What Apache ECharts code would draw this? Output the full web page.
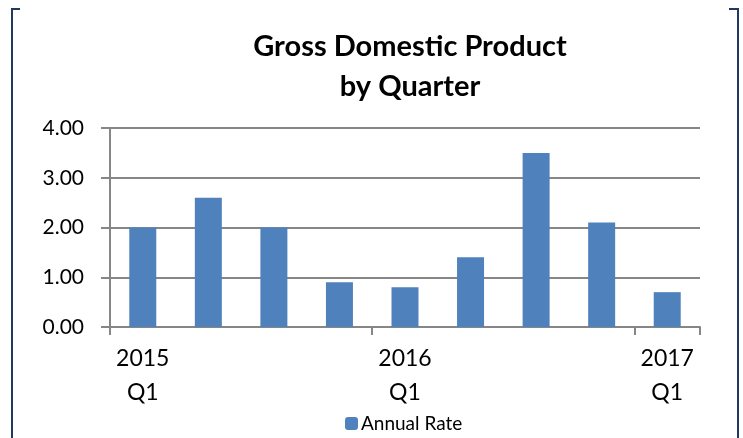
<!DOCTYPE html>
<html>
<head>
<meta charset="utf-8">
<script src="https://cdn.jsdelivr.net/npm/echarts@6/dist/echarts.min.js"></script>
<style>
  html, body { margin: 0; padding: 0; background: #fff; }
  #chart { width: 743px; height: 438px; }
</style>
</head>
<body>
<div id="chart"></div>
<script>
// quarters from 2015 Q1 to 2017 Q1
const quarters = ['2015 Q1', '2015 Q2', '2015 Q3', '2015 Q4', '2016 Q1', '2016 Q2', '2016 Q3', '2016 Q4', '2017 Q1'];
const annualRate = [2.0, 2.6, 2.0, 0.9, 0.8, 1.4, 3.5, 2.1, 0.7];
const yTicks = [0, 1, 2, 3, 4];

const font = 'Lato, "Open Sans", sans-serif';
const chart = echarts.init(document.getElementById('chart'));

chart.setOption({
  backgroundColor: '#ffffff',
  animation: false,
  title: {
    text: 'Gross Domestic Product\nby Quarter',
    left: 405,
    top: 22,
    textAlign: 'center',
    textStyle: { fontFamily: font, fontSize: 29, fontWeight: 'bold', color: '#000', lineHeight: 40 }
  },
  legend: {
    bottom: 0,
    left: 340,
    itemWidth: 13,
    itemHeight: 13,
    itemGap: 4,
    textStyle: { fontFamily: font, fontSize: 19, color: '#000', padding: [0, 0, 0, -2] },
    data: ['Annual Rate']
  },
  grid: { left: 110, right: 43, top: 128, bottom: 111 },
  xAxis: {
    type: 'category',
    data: quarters,
    axisLine: { lineStyle: { color: '#868686', width: 2 } },
    axisTick: { show: true, length: 8, lineStyle: { color: '#868686', width: 2 } },
    axisLabel: {
      interval: (i) => i % 4 === 0,
      formatter: (v) => v.replace(' ', '\n'),
      fontFamily: font, fontSize: 23, color: '#000', lineHeight: 34, margin: 15
    }
  },
  yAxis: {
    type: 'value',
    min: yTicks[0],
    max: yTicks[yTicks.length - 1],
    interval: 1,
    axisLine: { show: true, lineStyle: { color: '#868686', width: 2 } },
    axisTick: { show: true, length: 9, lineStyle: { color: '#868686', width: 2 } },
    splitLine: { lineStyle: { color: '#868686', width: 2 } },
    axisLabel: {
      formatter: (v) => v.toFixed(2),
      fontFamily: font, fontSize: 21, color: '#000', margin: 26
    }
  },
  series: [{
    name: 'Annual Rate',
    type: 'bar',
    data: annualRate,
    barWidth: 27,
    itemStyle: { color: '#4f81bd' }
  }],
  graphic: [
    { type: 'line', shape: { x1: 12, y1: 9, x2: 12, y2: 438 }, style: { stroke: '#1f3864', lineWidth: 2 } },
    { type: 'line', shape: { x1: 738, y1: 9, x2: 738, y2: 438 }, style: { stroke: '#1f3864', lineWidth: 2 } },
    { type: 'line', shape: { x1: 11, y1: 9, x2: 20, y2: 9 }, style: { stroke: '#1f3864', lineWidth: 2 } },
    { type: 'line', shape: { x1: 729, y1: 9, x2: 739, y2: 9 }, style: { stroke: '#1f3864', lineWidth: 2 } }
  ]
});
</script>
</body>
</html>
